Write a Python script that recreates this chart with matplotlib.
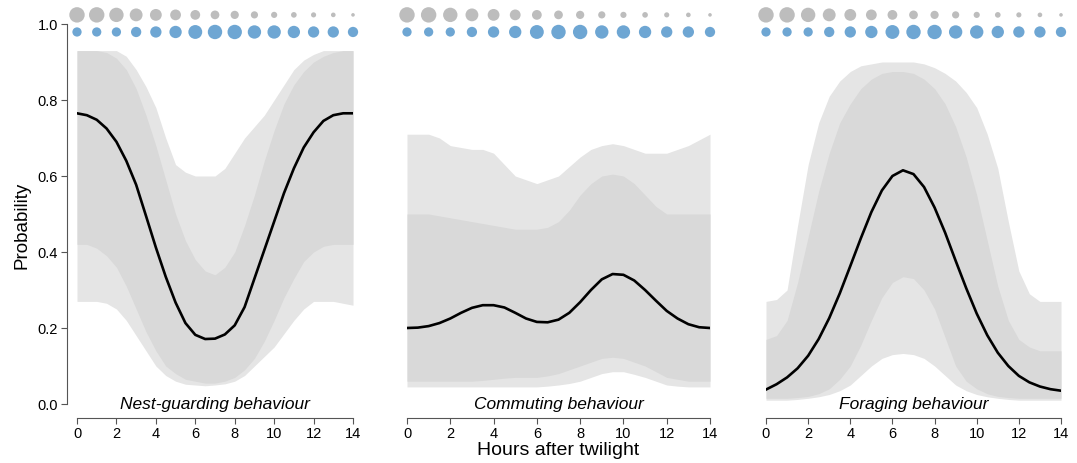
"""Three-panel behaviour probability chart: bootstrap band, mean curve and
sample-size dots per hour after twilight.

    python plot.py   -> out.png
"""
import numpy as np
import matplotlib
matplotlib.use("Agg")
import matplotlib.pyplot as plt

plt.rcParams["font.family"] = ["Liberation Sans", "DejaVu Sans"]

# ---- data ---------------------------------------------------------------
HOURS = np.arange(0, 15)              # whole hours, used for the dots
HOURS_FINE = np.arange(0, 14.5, 0.5)  # half-hour grid for curves and bands

# relative sample sizes shown as dots above each panel
N_GREY = [15, 15, 14, 12.5, 11.5, 10.5, 9.5, 8.5, 8, 7, 6, 5.5, 5, 4.5, 3.5]
N_BLUE = [9, 9, 9, 10, 11, 12, 13.5, 14, 14, 13, 13, 12, 11, 11, 10]

TITLES = ["Nest-guarding behaviour", "Commuting behaviour", "Foraging behaviour"]

# mean fitted probability (half-hour steps)
MEAN_NEST = [0.765, 0.760, 0.748, 0.725, 0.690, 0.640, 0.577, 0.495, 0.412,
             0.335, 0.267, 0.213, 0.182, 0.171, 0.172, 0.183, 0.207, 0.255,
             0.330, 0.405, 0.480, 0.555, 0.620, 0.675, 0.715, 0.745, 0.760,
             0.765, 0.765]
MEAN_COMM = [0.200, 0.201, 0.205, 0.213, 0.225, 0.240, 0.253, 0.260, 0.260,
             0.254, 0.240, 0.225, 0.216, 0.215, 0.222, 0.240, 0.268, 0.300,
             0.328, 0.342, 0.340, 0.325, 0.300, 0.272, 0.245, 0.225, 0.210,
             0.202, 0.200]
MEAN_FORA = [0.038, 0.052, 0.070, 0.094, 0.127, 0.171, 0.226, 0.291, 0.363,
             0.436, 0.505, 0.562, 0.600, 0.615, 0.605, 0.571, 0.517, 0.451,
             0.377, 0.305, 0.238, 0.181, 0.135, 0.100, 0.074, 0.057, 0.046,
             0.039, 0.035]

# bootstrap spread: dense core and outer (sparse) envelope, half-hour steps
NEST_DENSE_HI = [0.93, 0.93, 0.93, 0.925, 0.91, 0.88, 0.83, 0.76, 0.68, 0.59,
                 0.50, 0.43, 0.38, 0.35, 0.34, 0.36, 0.40, 0.47, 0.55, 0.64,
                 0.72, 0.79, 0.84, 0.875, 0.90, 0.915, 0.925, 0.93, 0.93]
NEST_DENSE_LO = [0.42, 0.42, 0.41, 0.39, 0.36, 0.31, 0.25, 0.19, 0.14, 0.10,
                 0.08, 0.065, 0.06, 0.055, 0.055, 0.06, 0.07, 0.09, 0.12,
                 0.165, 0.22, 0.28, 0.33, 0.375, 0.40, 0.415, 0.42, 0.42, 0.42]
NEST_SPARSE_HI = [0.93, 0.93, 0.93, 0.93, 0.93, 0.915, 0.88, 0.835, 0.78,
                  0.70, 0.63, 0.61, 0.60, 0.60, 0.60, 0.62, 0.66, 0.70, 0.73,
                  0.76, 0.80, 0.84, 0.88, 0.905, 0.92, 0.93, 0.93, 0.93, 0.93]
NEST_SPARSE_LO = [0.27, 0.27, 0.27, 0.265, 0.25, 0.22, 0.18, 0.14, 0.10,
                  0.075, 0.06, 0.052, 0.05, 0.048, 0.05, 0.053, 0.06, 0.075,
                  0.10, 0.125, 0.15, 0.185, 0.22, 0.25, 0.27, 0.27, 0.27,
                  0.265, 0.26]

COMM_DENSE_HI = [0.50, 0.50, 0.50, 0.495, 0.49, 0.485, 0.48, 0.475, 0.47,
                 0.465, 0.46, 0.46, 0.46, 0.465, 0.48, 0.51, 0.55, 0.58, 0.60,
                 0.605, 0.60, 0.58, 0.55, 0.52, 0.50, 0.50, 0.50, 0.50, 0.50]
COMM_DENSE_LO = [0.06, 0.06, 0.06, 0.06, 0.06, 0.06, 0.06, 0.062, 0.065,
                 0.068, 0.07, 0.07, 0.07, 0.074, 0.08, 0.09, 0.10, 0.11, 0.12,
                 0.123, 0.12, 0.11, 0.10, 0.085, 0.07, 0.065, 0.06, 0.06, 0.06]
COMM_SPARSE_HI = [0.71, 0.71, 0.71, 0.70, 0.68, 0.675, 0.67, 0.67, 0.66,
                  0.63, 0.60, 0.59, 0.58, 0.59, 0.60, 0.625, 0.65, 0.67, 0.68,
                  0.685, 0.68, 0.67, 0.66, 0.66, 0.66, 0.67, 0.68, 0.695, 0.71]
COMM_SPARSE_LO = [0.045, 0.045, 0.045, 0.045, 0.045, 0.045, 0.045, 0.045,
                  0.045, 0.045, 0.045, 0.045, 0.045, 0.047, 0.05, 0.054, 0.06,
                  0.07, 0.08, 0.085, 0.085, 0.078, 0.07, 0.06, 0.05, 0.047,
                  0.045, 0.045, 0.045]

FORA_DENSE_HI = [0.17, 0.18, 0.22, 0.32, 0.44, 0.56, 0.66, 0.74, 0.79, 0.83,
                 0.855, 0.87, 0.875, 0.875, 0.87, 0.855, 0.83, 0.79, 0.73,
                 0.65, 0.55, 0.43, 0.31, 0.22, 0.17, 0.15, 0.14, 0.14, 0.14]
FORA_DENSE_LO = [0.015, 0.015, 0.015, 0.017, 0.02, 0.027, 0.04, 0.065, 0.10,
                 0.155, 0.22, 0.28, 0.32, 0.335, 0.33, 0.30, 0.25, 0.175,
                 0.10, 0.06, 0.04, 0.027, 0.02, 0.017, 0.015, 0.015, 0.015,
                 0.015, 0.015]
FORA_SPARSE_HI = [0.27, 0.275, 0.30, 0.47, 0.63, 0.74, 0.81, 0.85, 0.875,
                  0.89, 0.895, 0.90, 0.90, 0.90, 0.90, 0.895, 0.885, 0.87,
                  0.85, 0.82, 0.78, 0.71, 0.62, 0.48, 0.35, 0.29, 0.27, 0.27,
                  0.27]
FORA_SPARSE_LO = [0.01, 0.01, 0.01, 0.012, 0.015, 0.019, 0.025, 0.035, 0.05,
                  0.075, 0.10, 0.12, 0.13, 0.133, 0.13, 0.12, 0.10, 0.075,
                  0.05, 0.035, 0.025, 0.019, 0.015, 0.012, 0.01, 0.01, 0.01,
                  0.01, 0.01]

# ---- layout (pixels of a 1077x464 canvas) --------------------------------
W, H = 1077, 464
PANEL_X = [(77, 353), (407, 710), (766, 1061)]   # x of hour 0 and hour 14
Y0_PX, Y1_PX = 405, 25                            # y of prob 0 and prob 1
YLIM = (-0.02, 1.05)

BAND = "#d9d9d9"
BAND_SPARSE = "#e5e5e5"
DOT_GREY = "#bdbdbd"
DOT_BLUE = "#6ea6d3"


def panel_axes(fig, x0, x1):
    per_unit = (Y0_PX - Y1_PX)
    bottom_px = Y0_PX - YLIM[0] * per_unit
    top_px = Y0_PX - YLIM[1] * per_unit
    return fig.add_axes([x0 / W, (H - bottom_px) / H, (x1 - x0) / W,
                         (bottom_px - top_px) / H])


def main():
    fig = plt.figure(figsize=(W / 100, H / 100), dpi=100)

    means = [MEAN_NEST, MEAN_COMM, MEAN_FORA]
    bands = [(NEST_SPARSE_LO, NEST_SPARSE_HI, NEST_DENSE_LO, NEST_DENSE_HI),
             (COMM_SPARSE_LO, COMM_SPARSE_HI, COMM_DENSE_LO, COMM_DENSE_HI),
             (FORA_SPARSE_LO, FORA_SPARSE_HI, FORA_DENSE_LO, FORA_DENSE_HI)]

    for i, (x0, x1) in enumerate(PANEL_X):
        ax = panel_axes(fig, x0, x1)
        s_lo, s_hi, d_lo, d_hi = bands[i]
        ax.fill_between(HOURS_FINE, s_lo, s_hi, color=BAND_SPARSE, lw=0)
        ax.fill_between(HOURS_FINE, d_lo, d_hi, color=BAND, lw=0)
        ax.plot(HOURS_FINE, means[i], color="black", lw=1.9,
                solid_joinstyle="round")

        # sample-size dots above the curves
        ax.scatter(HOURS, np.full(15, 1.024), s=(np.array(N_GREY) * 0.74) ** 2,
                   color=DOT_GREY, lw=0, clip_on=False)
        ax.scatter(HOURS, np.full(15, 0.979), s=(np.array(N_BLUE) * 0.74) ** 2,
                   color=DOT_BLUE, lw=0, clip_on=False)

        ax.text(7, 0.0, TITLES[i], ha="center", va="center", style="italic",
                fontsize=12.5)

        ax.set_xlim(0, 14)
        ax.set_ylim(*YLIM)
        for side in ("top", "right"):
            ax.spines[side].set_visible(False)
        ax.spines["bottom"].set_bounds(0, 14)
        ax.spines["bottom"].set_position(("outward", 4.3))
        ax.spines["bottom"].set_color("#555555")
        ax.set_xticks(range(0, 15, 2))
        ax.tick_params(axis="x", length=4, width=0.8, color="#555555",
                       labelsize=10.5, pad=2)
        if i == 0:
            ax.spines["left"].set_bounds(0, 1)
            ax.spines["left"].set_position(("outward", 7.5))
            ax.spines["left"].set_color("#555555")
            ax.set_yticks([0, 0.2, 0.4, 0.6, 0.8, 1.0])
            ax.set_yticklabels(["0.0", "0.2", "0.4", "0.6", "0.8", "1.0"])
            ax.tick_params(axis="y", length=4, width=0.8, color="#555555",
                           labelsize=10.5, pad=2)
        else:
            ax.spines["left"].set_visible(False)
            ax.set_yticks([])
        ax.patch.set_visible(False)

    fig.text(558 / W, 1 - 451 / H, "Hours after twilight", ha="center",
             va="center", fontsize=14)
    fig.text(22 / W, 1 - 225 / H, "Probability", ha="center", va="center",
             rotation=90, fontsize=13.5)

    fig.savefig("out.png", dpi=100)
    plt.close(fig)


if __name__ == "__main__":
    main()
